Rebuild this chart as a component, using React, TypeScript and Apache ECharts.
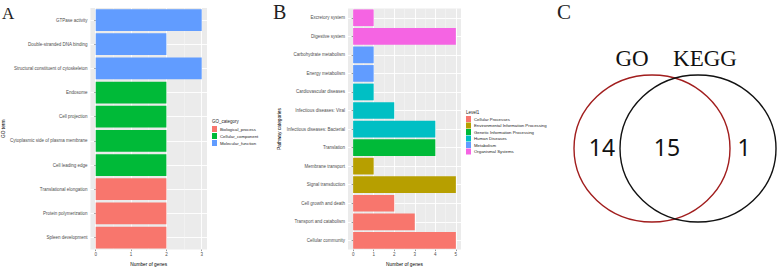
import React, { useEffect, useRef } from "react";
import * as echarts from "echarts";

// Panel A: GO terms (top to bottom)
const goTerms = [
  "GTPase activity",
  "Double-stranded DNA binding",
  "Structural constituent of cytoskeleton",
  "Endosome",
  "Cell projection",
  "Cytoplasmic side of plasma membrane",
  "Cell leading edge",
  "Translational elongation",
  "Protein polymerization",
  "Spleen development",
];
const goCounts = [3, 2, 3, 2, 2, 2, 2, 2, 2, 2];
const goGroups = [
  "Molecular_function",
  "Molecular_function",
  "Molecular_function",
  "Cellular_component",
  "Cellular_component",
  "Cellular_component",
  "Cellular_component",
  "Biological_process",
  "Biological_process",
  "Biological_process",
];
const goCategories = ["Biological_process", "Cellular_component", "Molecular_function"];
const goColors = ["#F8766D", "#00BA38", "#619CFF"];
const goTicks = [0, 1, 2, 3];

// Panel B: KEGG pathway categories (top to bottom)
const keggTerms = [
  "Excretory system",
  "Digestive system",
  "Carbohydrate metabolism",
  "Energy metabolism",
  "Cardiovascular diseases",
  "Infectious diseases: Viral",
  "Infectious diseases: Bacterial",
  "Translation",
  "Membrane transport",
  "Signal transduction",
  "Cell growth and death",
  "Transport and catabolism",
  "Cellular community",
];
const keggCounts = [1, 5, 1, 1, 1, 2, 4, 4, 1, 5, 2, 3, 5];
const keggGroups = [
  "Organismal Systems",
  "Organismal Systems",
  "Metabolism",
  "Metabolism",
  "Human Diseases",
  "Human Diseases",
  "Human Diseases",
  "Genetic Information Processing",
  "Environmental Information Processing",
  "Environmental Information Processing",
  "Cellular Processes",
  "Cellular Processes",
  "Cellular Processes",
];
const keggCategories = [
  "Cellular Processes",
  "Environmental Information Processing",
  "Genetic Information Processing",
  "Human Diseases",
  "Metabolism",
  "Organismal Systems",
];
const keggColors = ["#F8766D", "#B79F00", "#00BA38", "#00BFC4", "#619CFF", "#F564E3"];
const keggTicks = [0, 1, 2, 3, 4, 5];

// Panel C: Venn
const vennSets = ["GO", "KEGG"];
const vennCounts = [14, 15, 1];

const SANS = "Liberation Sans, Arial, sans-serif";
const SERIF = "Liberation Serif, Times New Roman, serif";

function valueAxis(gridIndex: number, min: number, max: number, ticks: number[]) {
  return {
    type: "value",
    gridIndex,
    min,
    max,
    splitNumber: ticks.length - 1,
    name: "Number of genes",
    nameLocation: "middle",
    nameGap: 9,
    nameTextStyle: { fontSize: 4.8, color: "#000", fontFamily: SANS },
    axisLine: { show: false },
    axisTick: { show: true, length: 1.5, lineStyle: { color: "#333", width: 0.5 }, customValues: ticks },
    axisLabel: { fontSize: 4.5, color: "#4D4D4D", margin: 2.5, fontFamily: SANS, customValues: ticks },
    splitLine: { show: true, lineStyle: { color: "#FFFFFF", width: 0.9 } },
    minorTick: { show: false, splitNumber: 2 },
    minorSplitLine: { show: true, lineStyle: { color: "#F7F7F7", width: 0.5 } },
  };
}

function catAxis(gridIndex: number, data: string[], name: string, nameGap: number) {
  return {
    type: "category",
    gridIndex,
    data,
    inverse: true,
    name,
    nameLocation: "middle",
    nameGap,
    nameRotate: 90,
    nameTextStyle: { fontSize: 4.8, color: "#000", fontFamily: SANS },
    axisLine: { show: false },
    axisTick: { show: true, length: 1.5, alignWithLabel: true, lineStyle: { color: "#333", width: 0.5 } },
    axisLabel: { fontSize: 4.5, color: "#4D4D4D", margin: 3, fontFamily: SANS },
    splitLine: { show: true, alignWithLabel: true, lineStyle: { color: "#FFFFFF", width: 0.9 } },
  };
}

export default function App() {
  const ref = useRef<HTMLDivElement>(null);

  useEffect(() => {
    if (!ref.current) return;
    const chart = echarts.init(ref.current, undefined, { renderer: "svg" });

    const seriesA = goCategories.map((c, k) => ({
      type: "bar",
      name: c,
      xAxisIndex: 0,
      yAxisIndex: 0,
      stack: "go",
      barCategoryGap: "10%",
      itemStyle: { color: goColors[k] },
      data: goCounts.map((v, i) => (goGroups[i] === c ? v : null)),
    }));
    const seriesB = keggCategories.map((c, k) => ({
      type: "bar",
      name: c,
      xAxisIndex: 1,
      yAxisIndex: 1,
      stack: "kegg",
      barCategoryGap: "10%",
      itemStyle: { color: keggColors[k] },
      data: keggCounts.map((v, i) => (keggGroups[i] === c ? v : null)),
    }));

    const legendCommon = {
      orient: "vertical",
      icon: "rect",
      itemWidth: 5,
      itemHeight: 6,
      padding: 0,
      selectedMode: false,
      textStyle: { fontSize: 4.3, color: "#222", fontFamily: SANS, padding: [0, 0, 0, -2] },
    };

    chart.setOption({
      animation: false,
      backgroundColor: "#FFFFFF",
      grid: [
        { left: 87, top: 8, width: 120, height: 250, show: true, backgroundColor: "#EBEBEB", borderWidth: 0 },
        { left: 348, top: 8.5, width: 113, height: 247, show: true, backgroundColor: "#EBEBEB", borderWidth: 0 },
      ],
      xAxis: [valueAxis(0, -0.15, 3.15, goTicks), valueAxis(1, -0.25, 5.25, keggTicks)],
      yAxis: [catAxis(0, goTerms, "GO term", 82), catAxis(1, keggTerms, "Pathway categories", 66)],
      legend: [
        { ...legendCommon, data: goCategories, left: 212, top: 126, itemGap: 1 },
        { ...legendCommon, data: keggCategories, left: 466, top: 116, itemGap: 0.5 },
      ],
      series: [...seriesA, ...seriesB],
      graphic: [
        { type: "text", x: 2, y: 13, style: { text: "A", font: `17px ${SERIF}`, fill: "#222", verticalAlign: "middle" } },
        { type: "text", x: 273, y: 12, style: { text: "B", font: `20px ${SERIF}`, fill: "#222", verticalAlign: "middle" } },
        { type: "text", x: 557, y: 12, style: { text: "C", font: `21px ${SERIF}`, fill: "#222", verticalAlign: "middle" } },
        { type: "text", x: 212, y: 121, style: { text: "GO_category", font: `4.5px ${SANS}`, fill: "#222", verticalAlign: "middle" } },
        { type: "text", x: 466, y: 112, style: { text: "Level1", font: `4.5px ${SANS}`, fill: "#222", verticalAlign: "middle" } },
        {
          type: "ellipse",
          shape: { cx: 652, cy: 148.5, rx: 78, ry: 73.5 },
          style: { fill: "none", stroke: "#A11D1D", lineWidth: 1.4 },
        },
        {
          type: "ellipse",
          shape: { cx: 698, cy: 148.5, rx: 78, ry: 73.5 },
          style: { fill: "none", stroke: "#111111", lineWidth: 1.4 },
        },
        { type: "text", x: 632, y: 58, style: { text: vennSets[0], font: `23px ${SERIF}`, fill: "#111", align: "center", verticalAlign: "middle" } },
        { type: "text", x: 705, y: 58, style: { text: vennSets[1], font: `23px ${SERIF}`, fill: "#111", align: "center", verticalAlign: "middle" } },
        { type: "text", x: 602, y: 147, style: { text: String(vennCounts[0]), font: `23px Noto Sans, sans-serif`, fill: "#111", align: "center", verticalAlign: "middle" } },
        { type: "text", x: 667, y: 147, style: { text: String(vennCounts[1]), font: `23px Noto Sans, sans-serif`, fill: "#111", align: "center", verticalAlign: "middle" } },
        { type: "text", x: 744, y: 147, style: { text: String(vennCounts[2]), font: `23px Noto Sans, sans-serif`, fill: "#111", align: "center", verticalAlign: "middle" } },
      ],
    });

    return () => chart.dispose();
  }, []);

  return <div ref={ref} style={{ width: 777, height: 272, position: "absolute", left: 0, top: 0 }} />;
}
